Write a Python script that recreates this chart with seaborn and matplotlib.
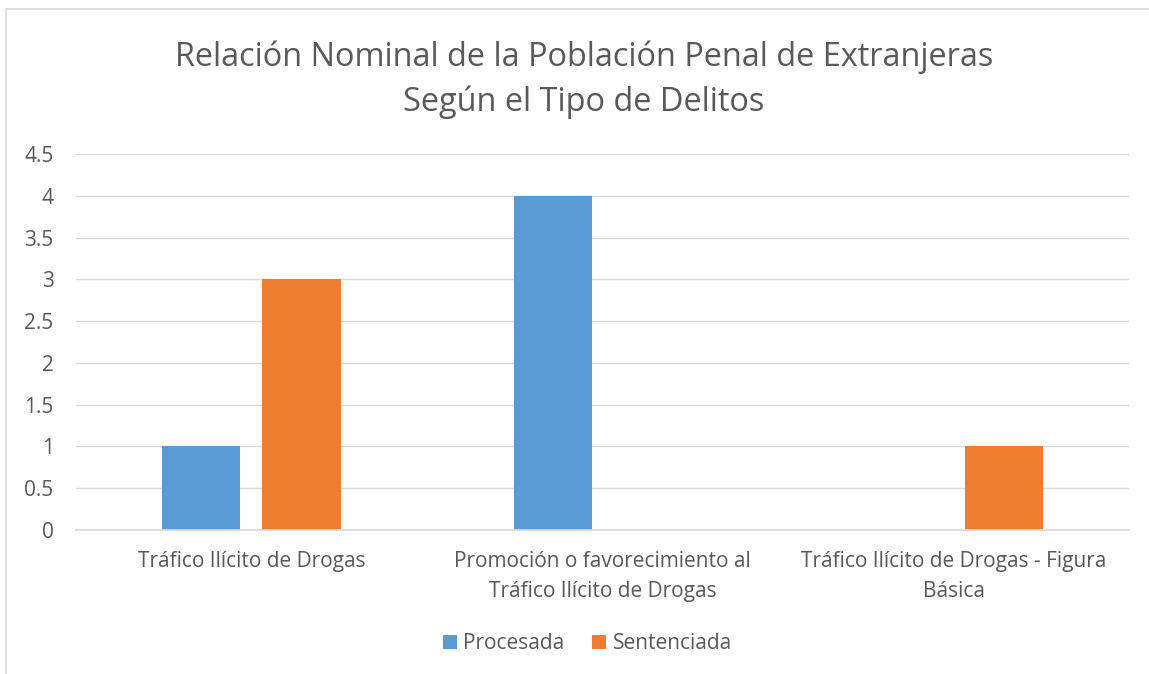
import pandas as pd
import seaborn as sns
import matplotlib.pyplot as plt
from matplotlib.patches import Rectangle

# data
delitos = ["Tráfico Ilícito de Drogas",
           "Promoción o favorecimiento al\nTráfico Ilícito de Drogas",
           "Tráfico Ilícito de Drogas - Figura\nBásica"]
procesada = [1, 4, 0]
sentenciada = [3, 0, 1]
yticks = [0, 0.5, 1, 1.5, 2, 2.5, 3, 3.5, 4, 4.5]

df = pd.DataFrame({"Delito": delitos * 2,
                   "Situacion": ["Procesada"] * 3 + ["Sentenciada"] * 3,
                   "Cantidad": procesada + sentenciada})

sns.set_theme(style="white")
plt.rcParams['font.family'] = ['Open Sans', 'DejaVu Sans']
gris = "#595959"

fig = plt.figure(figsize=(11.49, 6.74), dpi=100)
ax = fig.add_axes([0.066, 0.2136, 0.917, 0.558])

sns.barplot(data=df, x="Delito", y="Cantidad", hue="Situacion",
            palette=["#5B9BD5", "#ED7D31"], width=0.57, gap=0.22,
            saturation=1, linewidth=0, ax=ax, legend=True)

ax.set_ylim(0, 4.5)
ax.set_yticks(yticks)
ax.set_yticklabels([f"{t:g}" for t in yticks])
ax.grid(axis="y", color="#D9D9D9", linewidth=1)
ax.set_axisbelow(True)
for s in ["top", "right", "left"]:
    ax.spines[s].set_visible(False)
ax.spines["bottom"].set_color("#D9D9D9")
ax.tick_params(axis="both", length=0, labelsize=15, labelcolor=gris)
ax.tick_params(axis="y", pad=16)
ax.tick_params(axis="x", pad=15)
for lab in ax.get_xticklabels():
    lab.set_linespacing(1.55)
ax.set_xlabel("")
ax.set_ylabel("")

fig.suptitle("Relación Nominal de la Población Penal de Extranjeras\nSegún el Tipo de Delitos",
             x=0.508, y=0.94, fontsize=23.4, color=gris, linespacing=1.45)

leg = ax.legend(loc="center", bbox_to_anchor=(0.511, 0.045),
                bbox_transform=fig.transFigure, ncol=2, frameon=False,
                fontsize=15, handlelength=0.7, handleheight=0.7,
                handletextpad=0.3, columnspacing=1.3)
for t in leg.get_texts():
    t.set_color(gris)

# chart border
fig.patches.append(Rectangle((0.0055, -0.01), 1.0, 0.997, transform=fig.transFigure,
                             fill=False, edgecolor="#D9D9D9", linewidth=1.2))

fig.savefig("out.png", dpi=100)
